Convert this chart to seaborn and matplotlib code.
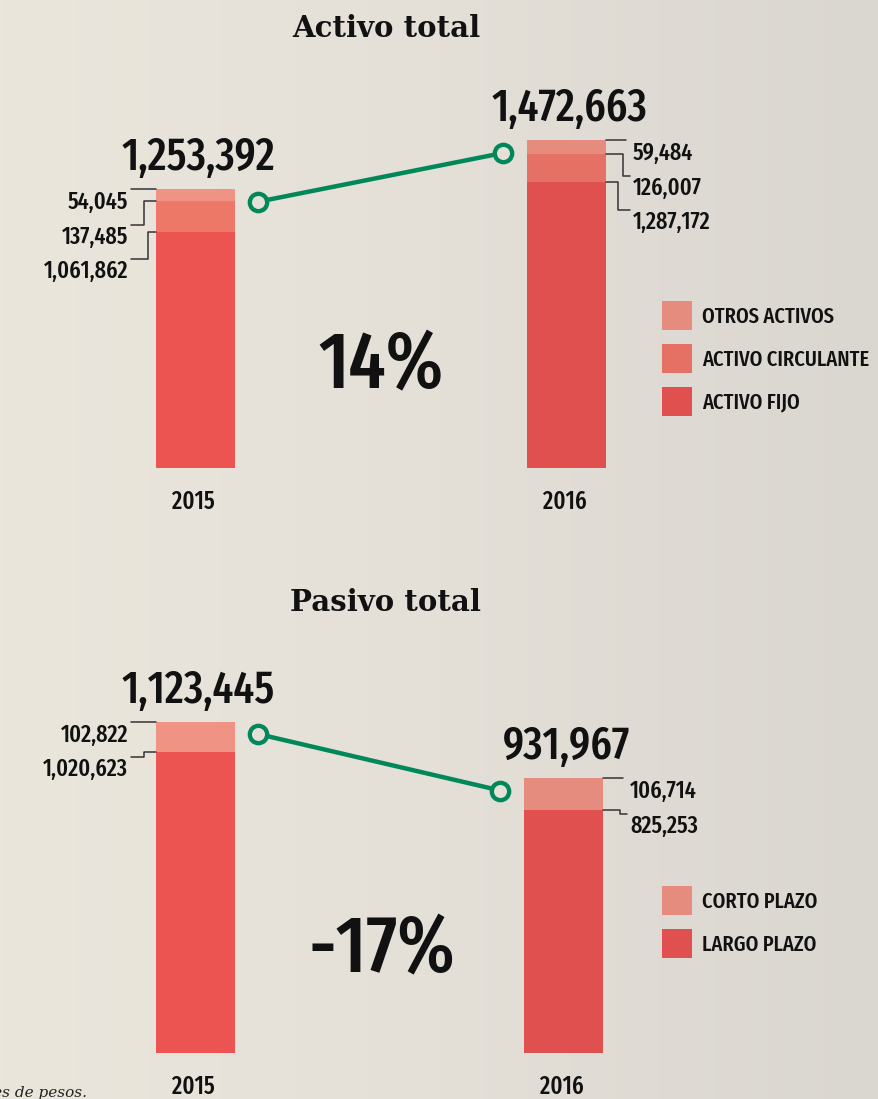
import numpy as np
import pandas as pd
import seaborn as sns
import matplotlib.pyplot as plt
from matplotlib import font_manager as fm
from matplotlib.font_manager import FontProperties
from matplotlib.textpath import TextPath
from matplotlib.lines import Line2D
from matplotlib.patches import Patch
from matplotlib.colors import LinearSegmentedColormap
from matplotlib.transforms import ScaledTranslation

sns.set_style("white")
plt.rcParams['font.family'] = ['DejaVu Sans']

# Cifras en miles de pesos
years = ["2015", "2016"]

otros_activos = [54045, 59484]
activo_circulante = [137485, 126007]
activo_fijo = [1061862, 1287172]
activo_total = [1253392, 1472663]
activo_cambio = "14%"
activo_labels = ["OTROS ACTIVOS", "ACTIVO CIRCULANTE", "ACTIVO FIJO"]

corto_plazo = [102822, 106714]
largo_plazo = [1020623, 825253]
pasivo_total = [1123445, 931967]
pasivo_cambio = "-17%"
pasivo_labels = ["CORTO PLAZO", "LARGO PLAZO"]

# colores por año (el fondo cambia de tono de izquierda a derecha)
col_claro = ["#EF9484", "#E68C7E"]
col_medio = ["#EE7868", "#E57164"]
col_fuerte = ["#EB5450", "#E0504E"]
verde = "#00875A"
tinta = "#111111"


def pick_condensed():
    # busca una sans estrecha de peso medio entre las fuentes instaladas
    cands = []
    for f in fm.fontManager.ttflist:
        fn = f.fname.lower().replace("-", "").replace("_", "")
        if f.style != "normal" or "italic" in fn or "oblique" in fn:
            continue
        if "serif" in fn or "mono" in fn or "cjk" in fn or "math" in fn:
            continue
        if "extracondensed" in fn or "ultracondensed" in fn:
            score = 0
        elif "semicondensed" in fn:
            score = 3
        elif "condensed" in fn:
            score = 1
        elif "narrow" in fn:
            score = 2
        else:
            continue
        w = f.weight if isinstance(f.weight, int) else 400
        cands.append((score, abs(w - 500), w, f.fname))
    if not cands:
        return FontProperties(family="DejaVu Sans")
    cands.sort()
    return FontProperties(fname=cands[0][3])


cond = pick_condensed()


def fit_size(text, w_px, h_px):
    w10 = TextPath((0, 0), text, size=10, prop=cond).get_extents().width * 100 / 72
    h10 = TextPath((0, 0), "0123456789", size=10, prop=cond).get_extents().height * 100 / 72
    return min(10 * w_px / w10, 10 * h_px / h10)


def fprop(size):
    p = cond.copy()
    p.set_size(size)
    return p


fs_total = fit_size("1,253,392", 152, 37)
fs_pct = fit_size("14%", 122, 76)
fs_lab = fit_size("1,061,862", 84, 19)
fs_year = fit_size("2015", 42, 20)
fs_leg = fit_size("ACTIVO CIRCULANTE", 166, 19)

W, H = 879, 1099
fig = plt.figure(figsize=(W / 100, H / 100), dpi=100)

# fondo degradado
bg = fig.add_axes([0, 0, 1, 1], zorder=-10)
cmap = LinearSegmentedColormap.from_list("fondo", ["#EAE6DC", "#E4E0D8", "#DAD6D0"])
bg.imshow(np.linspace(0, 1, 256)[None, :], cmap=cmap, aspect="auto", extent=[0, 1, 0, 1])
bg.axis("off")


def fig_xy(x, y):
    return x / W, 1 - y / H


def to_px(ax, x, y):
    dx, dy = ax.transData.transform((x, y))
    return dx, H - dy


def seg(pts):
    xs = [p[0] / W for p in pts]
    ys = [1 - p[1] / H for p in pts]
    fig.add_artist(Line2D(xs, ys, transform=fig.transFigure, color="#333333", lw=1.1))


def panel(y_top, y_bot, c0, c1, scale, segments, colors, totals, cambio, pct_y, title, title_y):
    ax = fig.add_axes([0, 1 - y_bot / H, 1, (y_bot - y_top) / H])
    gap = c1 - c0
    width = 79 / gap
    # barras apiladas: se dibujan las alturas acumuladas de mayor a menor
    for k in range(len(segments)):
        level = np.sum(segments[k:], axis=0)
        sns.barplot(x=years, y=level, hue=years, palette=colors[k], width=width,
                    saturation=1, linewidth=0, legend=False, ax=ax)
    ax.set_xlim(-c0 / gap, (W - c0) / gap)
    ax.set_ylim(0, (y_bot - y_top) * scale)
    ax.axis("off")

    # línea verde entre totales
    off = 63 / gap
    down = ScaledTranslation(0, -12.5 / 100, fig.dpi_scale_trans)
    sns.lineplot(x=[0 + off, 1 - off], y=totals, color=verde, lw=3.2, marker="o",
                 markersize=12.5, markeredgewidth=3.1, markeredgecolor=verde,
                 markerfacecolor="#E5E1D9", ax=ax, transform=ax.transData + down,
                 clip_on=False, zorder=5)

    for j in range(2):
        _, ytop = to_px(ax, j, totals[j])
        xc, _ = to_px(ax, j, 0)
        # total sobre la barra
        fig.text(*fig_xy(xc + 3, ytop - 19), f"{totals[j]:,}", ha="center", va="baseline",
                 fontproperties=fprop(fs_total), color=tinta)
        # año
        fig.text(*fig_xy(xc - 2, y_bot + 41), years[j], ha="center", va="baseline",
                 fontproperties=fprop(fs_year), color=tinta)
        # etiquetas de segmentos con guías
        left = xc - 39.5
        right = xc + 39.5
        for i in range(len(segments)):
            val = np.sum(segments[i:], axis=0)[j]
            _, yb = to_px(ax, j, val)
            yt = ytop + 1 + i * 34.5
            if j == 0:
                end = left - 25
                if i == 0:
                    seg([(left, yb), (end, yb)])
                else:
                    ex = left - (12 if i == 1 else 8)
                    seg([(left, yb), (ex, yb), (ex, yt), (end, yt)])
                fig.text(*fig_xy(left - 28, yt + 19), f"{segments[i][j]:,}", ha="right",
                         va="baseline", fontproperties=fprop(fs_lab), color=tinta)
            else:
                if i == 0:
                    seg([(right, yb), (right + 20, yb)])
                else:
                    ex = right + (17 if i == 1 else 12)
                    seg([(right, yb), (ex, yb), (ex, yt), (right + 24, yt)])
                fig.text(*fig_xy(right + 27, yt + 19), f"{segments[i][j]:,}", ha="left",
                         va="baseline", fontproperties=fprop(fs_lab), color=tinta)

    # porcentaje de cambio
    fig.text(*fig_xy(381.5, pct_y), cambio, ha="center", va="baseline",
             fontproperties=fprop(fs_pct), color=tinta)

    # título
    fig.text(*fig_xy(386, title_y), title, ha="center", va="baseline", fontsize=21,
             fontweight="bold", family=["DejaVu Serif"], color=tinta)

    handles = [Patch(facecolor=colors[k][1], edgecolor="none") for k in range(len(segments))]
    return ax, handles


ax1, h1 = panel(100, 468, 195.5, 566.5, 4495, [otros_activos, activo_circulante, activo_fijo],
                [col_claro, col_medio, col_fuerte], activo_total, activo_cambio, 388,
                "Activo total", 37)
ax2, h2 = panel(700, 1053, 195.5, 563.5, 3390, [corto_plazo, largo_plazo],
                [col_claro, col_fuerte], pasivo_total, pasivo_cambio, 972,
                "Pasivo total", 611)

# leyendas: cuadros de 30x29 px, filas cada 43 px
fs_px = fs_leg * 100 / 72
hh = (29 / fs_px - 0.245) / 0.65
for handles, labels, ytop in [(h1, activo_labels, 301), (h2, pasivo_labels, 886)]:
    fig.legend(handles, labels, loc="upper left", bbox_to_anchor=fig_xy(662, ytop),
               bbox_transform=fig.transFigure, frameon=False, prop=fprop(fs_leg),
               labelcolor=tinta, handlelength=30 / fs_px, handleheight=hh,
               handletextpad=10 / fs_px, labelspacing=(43 - 29) / fs_px,
               borderpad=0, borderaxespad=0)

fig.text(*fig_xy(87, 1097), "Cifras en millones de pesos.", ha="right", va="baseline",
         fontsize=11, style="italic", family=["DejaVu Serif"], color="#222222")

fig.savefig("out.png", dpi=100)
